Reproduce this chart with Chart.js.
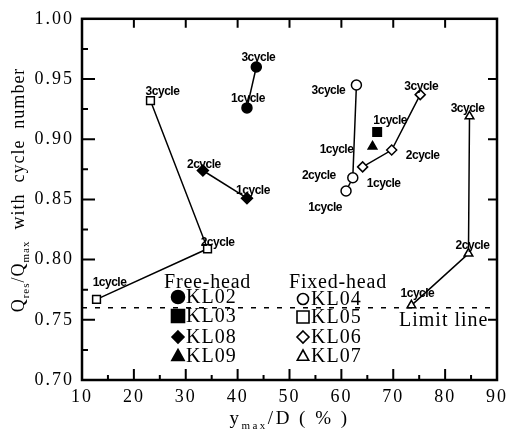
<!DOCTYPE html>
<html><head><meta charset="utf-8">
<script src="https://cdn.jsdelivr.net/npm/chart.js@4.4.1/dist/chart.umd.min.js"></script>
<style>html,body{margin:0;padding:0;background:#fff;} canvas{display:block;}</style>
</head><body>
<canvas id="c" width="512" height="433"></canvas>
<script>
// ---- data ----
const xTicks = [10, 20, 30, 40, 50, 60, 70, 80, 90];
const xTickLabels = ['10', '20', '30', '40', '50', '60', '70', '80', '90'];
const yTicks = [0.70, 0.75, 0.80, 0.85, 0.90, 0.95, 1.00];
const yTickLabels = ['0.70', '0.75', '0.80', '0.85', '0.90', '0.95', '1.00'];

const kl02X = [41.8, 43.6], kl02Y = [0.926, 0.960], kl02C = ['1cycle', '3cycle'];
const kl03X = [66.9], kl03Y = [0.906], kl03C = ['1cycle'];
const kl08X = [41.8, 33.3], kl08Y = [0.851, 0.874], kl08C = ['1cycle', '2cycle'];
const kl09X = [66.0], kl09Y = [0.894], kl09C = ['1cycle'];
const kl04X = [60.9, 62.2, 62.9], kl04Y = [0.857, 0.868, 0.945], kl04C = ['1cycle', '2cycle', '3cycle'];
const kl05X = [12.8, 34.2, 23.2], kl05Y = [0.767, 0.809, 0.932], kl05C = ['1cycle', '2cycle', '3cycle'];
const kl06X = [64.1, 69.7, 75.2], kl06Y = [0.877, 0.891, 0.937], kl06C = ['1cycle', '2cycle', '3cycle'];
const kl07X = [73.5, 84.5, 84.7], kl07Y = [0.762, 0.805, 0.919], kl07C = ['1cycle', '2cycle', '3cycle'];
const limitX = [10, 90], limitY = [0.76, 0.76];

// ---- label placement (pixel offsets from the point) ----
const labelOffsets = {
  KL02: [[1, -9], [2, -9]],
  KL03: [[13, -11]],
  KL08: [[6, -8], [1, -6]],
  KL09: [[-36, 3]],
  KL04: [[-21, 17], [-34, -2], [-28, 6]],
  KL05: [[13, -17], [10, -6], [12, -9]],
  KL06: [[21, 17], [31, 6], [1, -8]],
  KL07: [[6, -12], [4, -8], [-2, -8]]
};

function pts(xs, ys) { return xs.map((x, i) => ({ x: x, y: ys[i] })); }
function mk(label, xs, ys, cyc, style, filled, r) {
  return {
    label: label, data: pts(xs, ys), cycles: cyc,
    showLine: xs.length > 1, borderColor: '#000', borderWidth: 1.5,
    pointStyle: style, pointRadius: r, pointBorderWidth: 1.5,
    pointBackgroundColor: filled ? '#000' : '#fff', pointBorderColor: '#000'
  };
}

const datasets = [
  mk('KL02', kl02X, kl02Y, kl02C, 'circle', true, 5),
  mk('KL03', kl03X, kl03Y, kl03C, 'rect', true, 6),
  mk('KL08', kl08X, kl08Y, kl08C, 'rectRot', true, 5.5),
  mk('KL09', kl09X, kl09Y, kl09C, 'triangle', true, 5),
  mk('KL04', kl04X, kl04Y, kl04C, 'circle', false, 5),
  mk('KL05', kl05X, kl05Y, kl05C, 'rect', false, 5.5),
  mk('KL06', kl06X, kl06Y, kl06C, 'rectRot', false, 5),
  mk('KL07', kl07X, kl07Y, kl07C, 'triangle', false, 5),
  {
    label: 'Limit line', data: pts(limitX, limitY), showLine: true,
    borderColor: '#000', borderWidth: 1.5, borderDash: [5, 8], pointRadius: 0
  }
];

const SERIF = '"Liberation Serif", "DejaVu Serif", serif';

function drawMarker(ctx, style, x, y, r, filled) {
  ctx.save();
  ctx.beginPath();
  if (style === 'circle') ctx.arc(x, y, r, 0, Math.PI * 2);
  else if (style === 'rect') ctx.rect(x - r, y - r, 2 * r, 2 * r);
  else if (style === 'rectRot') { ctx.moveTo(x, y - r); ctx.lineTo(x + r, y); ctx.lineTo(x, y + r); ctx.lineTo(x - r, y); ctx.closePath(); }
  else if (style === 'triangle') { ctx.moveTo(x, y - r); ctx.lineTo(x + r * 0.95, y + r * 0.7); ctx.lineTo(x - r * 0.95, y + r * 0.7); ctx.closePath(); }
  ctx.lineWidth = 1.6; ctx.strokeStyle = '#000';
  ctx.fillStyle = filled ? '#000' : '#fff';
  ctx.fill(); ctx.stroke();
  ctx.restore();
}

function richText(ctx, parts, x, y, size, spacing) {
  // centered at x, baseline y
  ctx.save();
  ctx.letterSpacing = spacing + 'px';
  ctx.textBaseline = 'alphabetic';
  ctx.textAlign = 'left';
  let w = 0;
  parts.forEach(p => {
    ctx.font = (p.sub ? Math.round(size * 0.6) : size) + 'px ' + SERIF;
    p.w = ctx.measureText(p.t).width;
    w += p.w;
  });
  let cx = x - w / 2;
  parts.forEach(p => {
    ctx.font = (p.sub ? Math.round(size * 0.6) : size) + 'px ' + SERIF;
    ctx.fillText(p.t, cx, y + (p.sub ? size * 0.25 : 0));
    cx += p.w;
  });
  ctx.restore();
}

const decor = {
  id: 'decor',
  beforeDraw(chart) {
    const ctx = chart.ctx;
    ctx.save();
    ctx.fillStyle = '#fff';
    ctx.fillRect(0, 0, chart.width, chart.height);
    ctx.restore();
    ctx.letterSpacing = '2px';
  },
  afterDatasetsDraw(chart) {
    const ctx = chart.ctx;
    ctx.save();
    ctx.letterSpacing = '-0.5px';
    ctx.font = 'bold 12px "Liberation Sans", Arial, sans-serif';
    ctx.fillStyle = '#000';
    ctx.textAlign = 'center';
    ctx.textBaseline = 'middle';
    chart.data.datasets.forEach((ds, di) => {
      if (!ds.cycles) return;
      const meta = chart.getDatasetMeta(di);
      const offs = labelOffsets[ds.label];
      meta.data.forEach((el, i) => {
        const o = offs[i];
        ctx.fillText(ds.cycles[i], el.x + o[0], el.y + o[1]);
      });
    });
    ctx.restore();
  },
  afterDraw(chart) {
    const ctx = chart.ctx;
    const a = chart.chartArea;
    const xs = chart.scales.x, ys = chart.scales.y;
    ctx.save();
    ctx.strokeStyle = '#000';
    ctx.fillStyle = '#000';
    // frame
    ctx.lineWidth = 2.5;
    ctx.strokeRect(a.left, a.top, a.right - a.left, a.bottom - a.top);
    // ticks
    ctx.lineWidth = 2;
    ctx.beginPath();
    xTicks.forEach((v, i) => {
      if (i === 0 || i === xTicks.length - 1) return;
      const px = xs.getPixelForValue(v);
      ctx.moveTo(px, a.bottom); ctx.lineTo(px, a.bottom - 11);
      ctx.moveTo(px, a.top); ctx.lineTo(px, a.top + 9);
    });
    for (let i = 0; i < xTicks.length - 1; i++) {
      const px = xs.getPixelForValue((xTicks[i] + xTicks[i + 1]) / 2);
      ctx.moveTo(px, a.bottom); ctx.lineTo(px, a.bottom - 5);
    }
    yTicks.forEach((v, i) => {
      if (i === 0 || i === yTicks.length - 1) return;
      const py = ys.getPixelForValue(v);
      ctx.moveTo(a.left, py); ctx.lineTo(a.left + 13, py);
      ctx.moveTo(a.right, py); ctx.lineTo(a.right - 9, py);
    });
    for (let i = 0; i < yTicks.length - 1; i++) {
      const py = ys.getPixelForValue((yTicks[i] + yTicks[i + 1]) / 2);
      ctx.moveTo(a.left, py); ctx.lineTo(a.left + 6, py);
    }
    ctx.stroke();

    // legend
    ctx.textAlign = 'left';
    ctx.textBaseline = 'middle';
    ctx.font = '20px ' + SERIF;
    ctx.letterSpacing = '0.8px';
    ctx.fillText('Free-head', 164, 283);
    ctx.fillText('Fixed-head', 289, 283);
    ctx.letterSpacing = '1px';
    ctx.fillText('Limit line', 399, 321);
    const free = [['KL02', 'circle', 297, 6.5], ['KL03', 'rect', 316, 6.5], ['KL08', 'rectRot', 337, 6], ['KL09', 'triangle', 356, 6.5]];
    const fixed = [['KL04', 'circle', 299, 5.5], ['KL05', 'rect', 317, 6], ['KL06', 'rectRot', 337, 6], ['KL07', 'triangle', 356, 6]];
    ctx.letterSpacing = '1px';
    free.forEach(f => { drawMarker(ctx, f[1], 178, f[2], f[3], true); ctx.fillText(f[0], 186, f[2] + 1); });
    fixed.forEach(f => { drawMarker(ctx, f[1], 303, f[2], f[3], false); ctx.fillText(f[0], 311, f[2] + 1); });

    // axis titles
    richText(ctx, [{ t: 'y' }, { t: 'max', sub: true }, { t: '/D ( % )' }], (a.left + a.right) / 2, 424, 19, 2.5);
    ctx.save();
    ctx.translate(24, 190);
    ctx.rotate(-Math.PI / 2);
    richText(ctx, [{ t: 'Q' }, { t: 'res', sub: true }, { t: '/Q' }, { t: 'max', sub: true }, { t: '  with  cycle  number' }], 0, 0, 18, 1);
    ctx.restore();
    ctx.restore();
  }
};

new Chart(document.getElementById('c'), {
  type: 'scatter',
  data: { datasets: datasets },
  options: {
    responsive: false,
    animation: false,
    layout: { padding: { top: 14, right: 7, left: 0, bottom: 0 } },
    plugins: { legend: { display: false }, tooltip: { enabled: false } },
    scales: {
      x: {
        type: 'linear', min: 10, max: 90,
        afterFit(s) { s.height = 53; },
        afterBuildTicks(s) { s.ticks = xTicks.map(v => ({ value: v })); },
        ticks: {
          callback: (v) => xTickLabels[xTicks.indexOf(v)],
          font: { family: SERIF, size: 18 }, color: '#000', padding: 6,
          maxRotation: 0, autoSkip: false
        },
        grid: { display: false, drawTicks: false },
        border: { display: false }
      },
      y: {
        type: 'linear', min: 0.70, max: 1.00,
        afterFit(s) { s.width = 82; },
        afterBuildTicks(s) { s.ticks = yTicks.map(v => ({ value: v })); },
        ticks: {
          callback: (v) => yTickLabels[yTicks.findIndex(t => Math.abs(t - v) < 1e-6)],
          font: { family: SERIF, size: 18 }, color: '#000', padding: 8,
          autoSkip: false
        },
        grid: { display: false, drawTicks: false },
        border: { display: false }
      }
    }
  },
  plugins: [decor]
});
</script>
</body></html>
